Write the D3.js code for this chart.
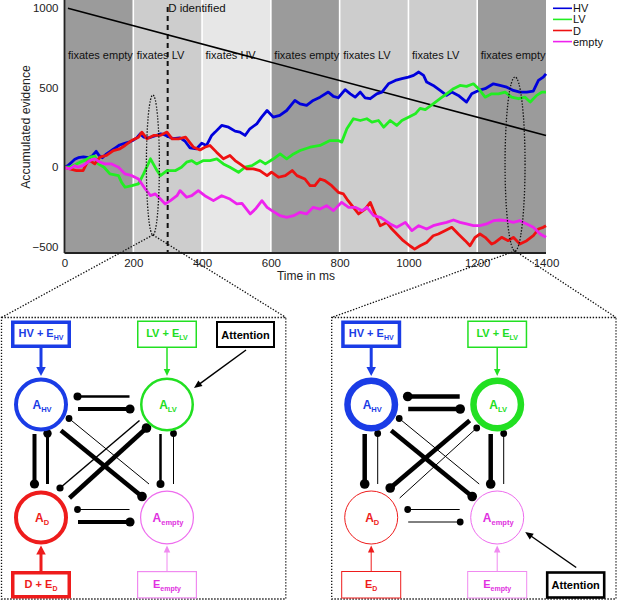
<!DOCTYPE html>
<html><head><meta charset="utf-8">
<script src="https://cdn.jsdelivr.net/npm/d3@7"></script>
<style>body{margin:0;background:#fff}svg{display:block}</style>
</head><body>
<svg id="c" width="617" height="602"></svg>
<script>
// ---------- DATA ----------
const bandStarts = [0,200,400,600,800,1000,1200];
const bandLabels = ["fixates empty","fixates LV","fixates HV","fixates empty","fixates LV","fixates LV","fixates empty"];
const xTicks = [0,200,400,600,800,1000,1200,1400];
const yTicks = [-500,0,500,1000];
const seriesNames = ["HV","LV","D","empty"];
const boundT = [10,1400];
const boundV = [1000,200];
const dIdentifiedT = 300;
const zoomTimes = [257,1310];

const hvData = [[0,0],[10,10],[20,30],[30,50],[40,60],[55,65],[70,60],[80,70],[92,100],[100,75],[110,60],[120,80],[130,95],[140,110],[150,125],[160,140],[175,150],[190,160],[200,170],[210,185],[220,210],[230,190],[245,185],[260,195],[280,210],[290,205],[300,195],[315,180],[336,185],[350,165],[365,122],[384,116],[399,151],[413,137],[428,200],[438,221],[457,263],[477,252],[496,227],[510,221],[525,200],[539,242],[559,273],[573,315],[589,357],[607,315],[626,326],[646,357],[670,420],[685,399],[704,389],[723,420],[743,441],[767,473],[782,446],[796,437],[816,488],[831,462],[845,441],[860,473],[874,437],[889,431],[908,462],[923,473],[942,525],[962,546],[981,557],[1000,567],[1015,578],[1030,599],[1044,578],[1053,536],[1072,515],[1092,483],[1111,452],[1126,473],[1145,452],[1169,410],[1184,462],[1204,483],[1223,494],[1247,525],[1266,515],[1286,504],[1305,483],[1324,473],[1344,473],[1363,479],[1378,546],[1392,567],[1400,588]];
const lvData = [[0,0],[15,0],[30,15],[45,32],[60,45],[74,63],[88,70],[98,21],[115,0],[132,-42],[157,-53],[166,-95],[176,-126],[196,-116],[215,-105],[230,-42],[250,53],[269,-21],[279,-53],[298,-21],[323,-21],[340,0],[355,32],[370,42],[384,21],[404,42],[423,42],[443,53],[462,21],[481,0],[506,-32],[525,0],[545,10],[569,42],[584,21],[608,53],[627,84],[646,53],[666,84],[685,105],[714,126],[743,137],[772,168],[796,168],[806,158],[821,242],[840,305],[860,294],[879,305],[894,284],[913,294],[928,252],[947,294],[966,263],[981,294],[1000,315],[1020,336],[1034,370],[1049,362],[1072,399],[1092,431],[1111,462],[1131,494],[1150,515],[1169,509],[1189,525],[1204,494],[1223,441],[1242,462],[1262,462],[1281,473],[1300,441],[1320,431],[1339,441],[1354,410],[1373,452],[1388,473],[1400,473]];
const dData = [[0,0],[15,-10],[35,-21],[54,-21],[66,30],[74,42],[88,21],[103,63],[122,74],[142,105],[161,116],[176,137],[195,168],[215,189],[225,221],[240,179],[259,200],[278,200],[298,221],[313,179],[332,179],[352,189],[375,126],[394,109],[408,126],[423,137],[442,95],[462,53],[481,74],[496,42],[510,21],[530,-10],[549,-10],[568,-21],[589,-53],[602,-31],[622,-63],[642,-53],[662,-21],[676,-53],[699,-74],[714,-116],[728,-116],[743,-74],[757,-84],[777,-116],[796,-158],[811,-168],[821,-200],[840,-252],[855,-294],[874,-263],[889,-221],[903,-294],[918,-368],[937,-347],[952,-389],[966,-420],[985,-462],[1004,-494],[1018,-515],[1034,-494],[1053,-473],[1072,-431],[1087,-420],[1106,-399],[1126,-378],[1145,-420],[1165,-462],[1179,-494],[1194,-441],[1208,-420],[1223,-441],[1242,-483],[1252,-473],[1271,-441],[1290,-462],[1305,-441],[1324,-483],[1344,-462],[1363,-431],[1378,-389],[1392,-378],[1400,-368]];
const emptyData = [[0,0],[15,-10],[30,10],[39,0],[54,10],[74,42],[88,53],[103,32],[117,21],[137,21],[157,0],[176,-42],[196,-53],[215,-74],[235,-137],[250,-179],[264,-168],[279,-200],[293,-231],[308,-210],[327,-179],[336,-147],[355,-189],[370,-179],[389,-147],[408,-179],[433,-210],[457,-179],[481,-200],[501,-231],[516,-227],[540,-294],[555,-263],[574,-210],[589,-252],[603,-273],[627,-305],[646,-315],[666,-305],[685,-284],[704,-294],[723,-252],[743,-263],[762,-242],[782,-273],[806,-221],[826,-252],[845,-252],[865,-273],[879,-252],[899,-305],[918,-315],[933,-336],[947,-357],[966,-378],[991,-347],[1010,-399],[1030,-368],[1053,-389],[1072,-368],[1092,-357],[1111,-347],[1131,-332],[1150,-347],[1169,-357],[1189,-368],[1208,-368],[1227,-357],[1247,-336],[1266,-332],[1286,-336],[1305,-347],[1324,-336],[1344,-357],[1363,-378],[1383,-420],[1400,-441]];

// network diagram data
const nodeNames = ["HV","LV","D","empty"];
const leftActivation = [4,2.5,4,1.2];
const rightActivation = [6.5,6.5,1,1];
const leftInputMain = ["HV + E","LV + E","D + E","E"];
const rightInputMain = ["HV + E","LV + E","E","E"];
const inputSub = ["HV","LV","D","empty"];
const leftInputWeight = [3.5,1.5,3.5,1.2];
const rightInputWeight = [3.5,1.5,1,1];
const leftLinks = [["LV","HV",2.5],["HV","LV",4],["empty","D",1],["D","empty",4],["HV","D",4],["D","HV",3],["LV","empty",2.5],["empty","LV",1],["empty","HV",1],["HV","empty",4.5],["LV","D",1.5],["D","LV",4.5]];
const rightLinks = [["LV","HV",4.5],["HV","LV",4.5],["empty","D",1],["D","empty",1],["HV","D",4.5],["D","HV",1],["LV","empty",4.5],["empty","LV",1],["empty","HV",1],["HV","empty",4.5],["LV","D",4.5],["D","LV",1]];
const attentionTarget = ["LV","empty"];

// ---------- CHART ----------
const svg = d3.select("#c");
const FONT = "'Liberation Sans', Arial, Helvetica, sans-serif";
const DFONT = "'Liberation Sans', Arial, sans-serif";
const x = d3.scaleLinear().domain([0,1400]).range([64.5,546]);
const y = d3.scaleLinear().domain([-500,1000]).range([246.7,8.3]);
const plotTop = 0, plotBottom = 253;
const bandFill = {"fixates empty":"#9b9b9b","fixates LV":"#cdcdcd","fixates HV":"#e7e7e7"};
const colors = {HV:"#0000dc",LV:"#22ee22",D:"#ee1111",empty:"#ee22ee"};

const g = svg.append("g");
g.selectAll("rect.band").data(bandStarts).enter().append("rect")
  .attr("x",d=>x(d)).attr("y",plotTop).attr("width",d=>x(d+200)-x(d)).attr("height",plotBottom-plotTop)
  .attr("fill",(d,i)=>bandFill[bandLabels[i]]);
g.selectAll("line.sep").data(bandStarts.slice(1)).enter().append("line")
  .attr("x1",d=>x(d)).attr("x2",d=>x(d)).attr("y1",plotTop).attr("y2",plotBottom)
  .attr("stroke","#fff").attr("stroke-width",1.6);
g.selectAll("text.band").data(bandStarts).enter().append("text")
  .attr("x",d=>x(d)+3.5).attr("y",59).text((d,i)=>bandLabels[i])
  .attr("font-family",FONT).attr("font-size",11).attr("fill","#111");

// dashed line D identified
g.append("line").attr("x1",x(dIdentifiedT)).attr("x2",x(dIdentifiedT)).attr("y1",7).attr("y2",plotBottom)
  .attr("stroke","#111").attr("stroke-width",2).attr("stroke-dasharray","5,4");
g.append("text").attr("x",x(dIdentifiedT)+0.5).attr("y",12).text("D identified")
  .attr("font-family",FONT).attr("font-size",11.5).attr("fill","#111");

// bound line
g.append("line").attr("x1",x(boundT[0])).attr("y1",y(boundV[0])).attr("x2",x(boundT[1])).attr("y2",y(boundV[1]))
  .attr("stroke","#000").attr("stroke-width",1.6);

// series
const line = d3.line().x(d=>x(d[0])).y(d=>y(d[1]));
const allSeries = [hvData,lvData,dData,emptyData];
allSeries.forEach((s,i)=>{
  g.append("path").attr("d",line(s)).attr("fill","none").attr("stroke",colors[seriesNames[i]])
   .attr("stroke-width",2.8).attr("stroke-linejoin","round");
});

// axes
g.append("line").attr("x1",64.5).attr("x2",64.5).attr("y1",0).attr("y2",plotBottom).attr("stroke","#222").attr("stroke-width",1.8);
g.append("line").attr("x1",64.5).attr("x2",546).attr("y1",plotBottom).attr("y2",plotBottom).attr("stroke","#222").attr("stroke-width",1.8);
const ax = g.append("g").attr("transform",`translate(0,${plotBottom})`)
  .call(d3.axisBottom(x).tickValues(xTicks).tickSize(0).tickPadding(6).tickFormat(d3.format("d")));
ax.select(".domain").remove();
const ay = g.append("g").attr("transform","translate(64.5,0)")
  .call(d3.axisLeft(y).tickValues(yTicks).tickSize(0).tickPadding(6).tickFormat(d3.format("d")));
ay.select(".domain").remove();
g.selectAll(".tick text").attr("font-family",FONT).attr("font-size",11.5).attr("fill","#222");
g.append("text").attr("x",306).attr("y",280).attr("text-anchor","middle").text("Time in ms")
  .attr("font-family",FONT).attr("font-size",12).attr("fill","#222");
g.append("text").attr("transform","translate(29.5,127) rotate(-90)").attr("text-anchor","middle").text("Accumulated evidence")
  .attr("font-family",FONT).attr("font-size",12.3).attr("fill","#222");

// legend
seriesNames.forEach((n,i)=>{
  const ly = 8.3 + i*11.1;
  g.append("line").attr("x1",553).attr("x2",572).attr("y1",ly).attr("y2",ly).attr("stroke",colors[n]).attr("stroke-width",1.6);
  g.append("text").attr("x",573).attr("y",ly+4).text(n).attr("font-family",FONT).attr("font-size",11).attr("fill","#111");
});

// ellipses + connectors
const ell = [{t:zoomTimes[0],cy:165,rx:6.5,ry:70,px:[1.5,286]},{t:zoomTimes[1],cy:164,rx:10,ry:87,px:[331.7,616]}];
const dotted = sel=>sel.attr("fill","none").attr("stroke","#111").attr("stroke-width",1.3).attr("stroke-dasharray","1.4,1.6");
ell.forEach(e=>{
  g.append("ellipse").attr("cx",x(e.t)).attr("cy",e.cy).attr("rx",e.rx).attr("ry",e.ry).call(dotted);
  e.px.forEach(px=>{
    g.append("line").attr("x1",x(e.t)).attr("y1",e.cy+e.ry).attr("x2",px).attr("y2",317.5).call(dotted);
  });
});

// ---------- DIAGRAMS ----------
const diagColors = {HV:"#1a3ce6",LV:"#22e022",D:"#ee1c1c",empty:"#ee6cee"};
const textColors = {HV:"#1a3ce6",LV:"#22dd22",D:"#ee1c1c",empty:"#e030e0"};
const boxColors = {HV:"#1a3ce6",LV:"#22e022",D:"#ee1c1c",empty:"#f08af0"};
const nodeRel = {HV:[39.5,404.5],LV:[165.5,404.5],D:[39.5,517.5],empty:[165.5,517.5]};

function richText(parent,cx,by,main,sub,color,size,subSize){
  const t = parent.append("text").attr("x",cx).attr("y",by).attr("text-anchor","middle")
    .attr("font-family",DFONT).attr("font-weight","bold").attr("font-size",size).attr("fill",color);
  t.append("tspan").text(main);
  t.append("tspan").attr("dy",size*0.28).attr("font-size",subSize).text(sub);
  return t;
}
function arrow(parent,x1,y1,x2,y2,w,color,hl,hw){
  const dx=x2-x1, dy=y2-y1, L=Math.hypot(dx,dy), ux=dx/L, uy=dy/L;
  const bx=x2-ux*hl, by=y2-uy*hl;
  parent.append("line").attr("x1",x1).attr("y1",y1).attr("x2",bx+ux*1).attr("y2",by+uy*1)
    .attr("stroke",color).attr("stroke-width",w);
  parent.append("path").attr("d",`M${x2},${y2}L${bx-uy*hw/2},${by+ux*hw/2}L${bx+uy*hw/2},${by-ux*hw/2}Z`).attr("fill",color);
}

function drawPanel(x0, activation, inputMain, inputWeight, links, attTarget){
  const p = svg.append("g");
  const N = {};
  nodeNames.forEach(n=>{N[n]=[x0+nodeRel[n][0], nodeRel[n][1]];});
  p.append("rect").attr("x",x0).attr("y",317.5).attr("width",284.3).attr("height",281.5).call(dotted);
  links.forEach(([a,b,w])=>{
    const A=N[a], B=N[b];
    let s, e;
    if (A[1]===B[1]) {
      const left = Math.min(A[0],B[0]), right=Math.max(A[0],B[0]);
      if (B[0]<A[0]) { const yy=A[1]-8; s=[right-37.5,yy]; e=[left+36.5,yy]; }
      else { const yy=A[1]+4.5; s=[left+37,yy]; e=[right-37,yy]; }
    } else if (A[0]===B[0]) {
      const top=Math.min(A[1],B[1]), bot=Math.max(A[1],B[1]);
      if (B[1]>A[1]) { const xx=A[0]-6.5; s=[xx,top+29.5]; e=[xx,bot-33.5]; }
      else { const xx=A[0]+6.5; s=[xx,bot-33.5]; e=[xx,top+29]; }
    } else {
      const key=a+">"+b;
      const off = {"empty>HV":[[-18,-33.5],[28,14]],"HV>empty":[[20,26],[-25,-21]],
                   "LV>D":[[-27.5,16],[19,-29.5]],"D>LV":[[28.5,-19.5],[-20.5,23.5]]}[key];
      s=[A[0]+off[0][0],A[1]+off[0][1]]; e=[B[0]+off[1][0],B[1]+off[1][1]];
    }
    p.append("line").attr("x1",s[0]).attr("y1",s[1]).attr("x2",e[0]).attr("y2",e[1])
      .attr("stroke","#000").attr("stroke-width",w);
    p.append("circle").attr("cx",e[0]).attr("cy",e[1]).attr("r",3+w*0.4).attr("fill","#000");
  });
  nodeNames.forEach((n,i)=>{
    const sw=activation[i];
    p.append("circle").attr("cx",N[n][0]).attr("cy",N[n][1]).attr("r",27-sw/2)
      .attr("fill","#fff").attr("stroke",diagColors[n]).attr("stroke-width",sw);
    richText(p,N[n][0]+1,N[n][1]+4,"A",n,textColors[n],12,7.5);
  });
  nodeNames.forEach((n,i)=>{
    const top = N[n][1] < 460;
    const bw=58, bh=25.5;
    const by = top ? 321.5 : 572;
    const sw = inputWeight[i];
    p.append("rect").attr("x",N[n][0]-bw/2+sw/2-1).attr("y",by+sw/2-1).attr("width",bw-sw+2).attr("height",bh-sw+2)
      .attr("fill","#fff").attr("stroke",boxColors[n]).attr("stroke-width",sw);
    richText(p,N[n][0],by+bh/2+3,inputMain[i],inputSub[i],textColors[n],11,7);
    const aw = sw>=3 ? 3 : (sw>=1.5 ? 1.5 : 1);
    const hl = aw>=3 ? 9 : 7, hw = aw>=3 ? 9.5 : 6.5;
    if (top) arrow(p,N[n][0],by+bh+1,N[n][0],N[n][1]-28.5,aw,boxColors[n],hl,hw);
    else arrow(p,N[n][0],by-1,N[n][0],N[n][1]+28,aw,boxColors[n],hl,hw);
  });
  const T = N[attTarget];
  const atTop = T[1] < 460;
  const abx = x0+215.5, aby = atTop ? 322 : 572.5;
  const asw = atTop ? 2 : 2.6;
  p.append("rect").attr("x",abx).attr("y",aby).attr("width",57).attr("height",25)
    .attr("fill","#fff").attr("stroke","#000").attr("stroke-width",asw);
  p.append("text").attr("x",abx+28.5).attr("y",aby+16.5).attr("text-anchor","middle").text("Attention")
    .attr("font-family",DFONT).attr("font-weight","bold").attr("font-size",11).attr("fill","#000");
  if (atTop) arrow(p,abx+29,aby+28,T[0]+27,T[1]-16.5,1.5,"#000",8,7);
  else arrow(p,abx+29,aby-5,T[0]+28,T[1]+14.5,1.5,"#000",8,7);
}
drawPanel(1.5, leftActivation, leftInputMain, leftInputWeight, leftLinks, attentionTarget[0]);
drawPanel(331.7, rightActivation, rightInputMain, rightInputWeight, rightLinks, attentionTarget[1]);
</script>
</body></html>
